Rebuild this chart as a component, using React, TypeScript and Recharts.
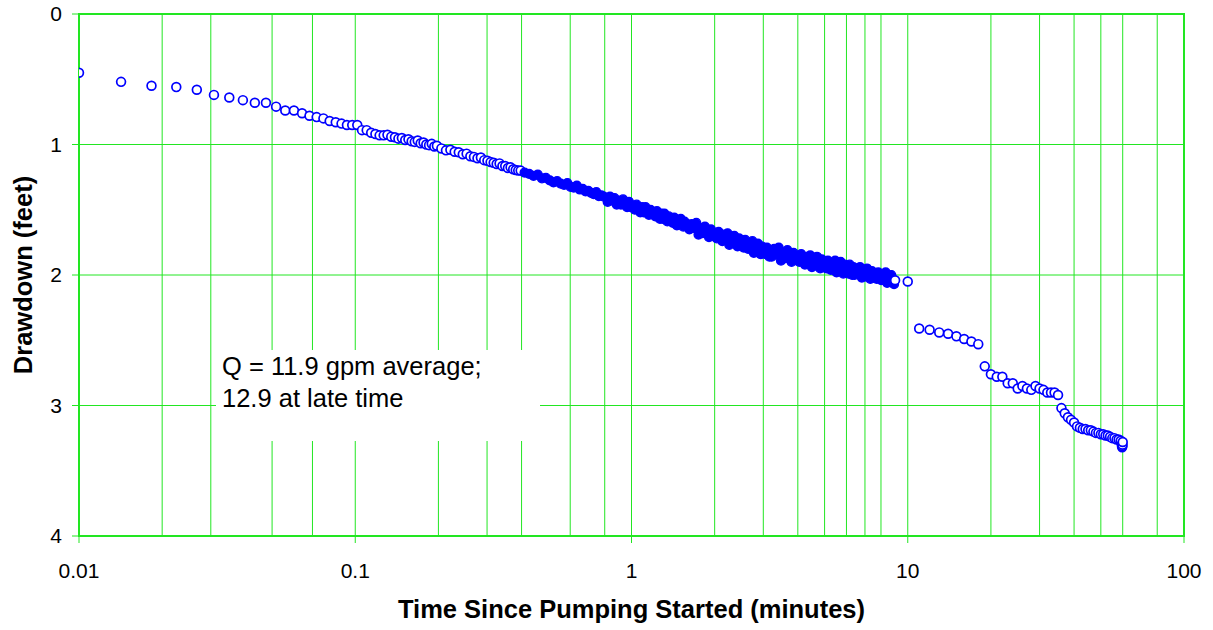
import { ScatterChart, Scatter, XAxis, YAxis, CartesianGrid, ReferenceArea } from 'recharts';

// pumping test drawdown, time in minutes, drawdown in feet
const earlyReadings = [
  [0.01, 0.45], [0.0142, 0.52], [0.0183, 0.55], [0.0225, 0.56], [0.0267, 0.58],
  [0.0308, 0.62], [0.035, 0.64], [0.0392, 0.66], [0.0433, 0.68], [0.0475, 0.68],
  [0.0517, 0.71], [0.0558, 0.74], [0.06, 0.74], [0.0642, 0.76], [0.0683, 0.78],
  [0.0725, 0.79], [0.0767, 0.8], [0.0808, 0.82], [0.085, 0.83], [0.0892, 0.84],
  [0.0933, 0.85], [0.0975, 0.85], [0.1017, 0.85], [0.1058, 0.89], [0.11, 0.89],
  [0.1142, 0.91], [0.1183, 0.92],
  [0.1225, 0.93], [0.1267, 0.93], [0.1308, 0.925], [0.135, 0.94], [0.1392, 0.945],
  [0.1433, 0.955], [0.1475, 0.95], [0.1517, 0.965], [0.1558, 0.96], [0.16, 0.975],
  [0.1642, 0.98], [0.1683, 0.97], [0.1725, 0.99], [0.1767, 0.985], [0.1808, 1.0],
  [0.185, 1.005], [0.1892, 0.995], [0.1933, 1.015], [0.1975, 1.01],
  [0.205, 1.03], [0.213, 1.045], [0.221, 1.04], [0.229, 1.055], [0.237, 1.06],
  [0.245, 1.075], [0.253, 1.07], [0.261, 1.09], [0.269, 1.095], [0.277, 1.105],
  [0.285, 1.1], [0.293, 1.12], [0.301, 1.125], [0.309, 1.135], [0.317, 1.14],
  [0.325, 1.15], [0.333, 1.145], [0.341, 1.165], [0.349, 1.165], [0.357, 1.18],
  [0.365, 1.175], [0.373, 1.19], [0.381, 1.195], [0.389, 1.2], [0.397, 1.2],
];

const denseReadings = [
  [0.41, 1.215], [0.426, 1.225], [0.442, 1.24], [0.458, 1.23], [0.474, 1.26],
  [0.49, 1.255], [0.506, 1.275], [0.522, 1.29], [0.538, 1.28], [0.554, 1.3],
  [0.57, 1.31], [0.586, 1.295], [0.602, 1.325], [0.618, 1.33], [0.634, 1.315],
  [0.65, 1.345], [0.666, 1.34], [0.682, 1.36], [0.698, 1.355], [0.714, 1.37],
  [0.73, 1.38], [0.746, 1.365], [0.762, 1.395], [0.778, 1.39], [0.794, 1.4],
  [0.82, 1.44], [0.836, 1.4], [0.852, 1.43], [0.868, 1.41], [0.884, 1.46],
  [0.9, 1.43], [0.916, 1.46], [0.932, 1.42], [0.948, 1.45], [0.964, 1.48],
  [0.98, 1.44], [0.996, 1.48], [1.012, 1.47], [1.028, 1.5], [1.044, 1.46],
  [1.06, 1.49], [1.076, 1.52], [1.092, 1.48], [1.108, 1.52], [1.124, 1.48],
  [1.14, 1.51], [1.156, 1.54], [1.172, 1.5], [1.188, 1.53], [1.204, 1.52],
  [1.22, 1.55], [1.236, 1.51], [1.252, 1.55], [1.268, 1.57], [1.284, 1.53],
  [1.3, 1.57], [1.316, 1.53], [1.332, 1.56], [1.348, 1.59], [1.364, 1.55],
  [1.38, 1.58], [1.396, 1.57], [1.412, 1.6], [1.428, 1.56], [1.444, 1.59],
  [1.46, 1.62], [1.476, 1.58], [1.492, 1.61], [1.508, 1.57], [1.524, 1.6],
  [1.54, 1.63], [1.556, 1.59], [1.572, 1.62], [1.588, 1.61],
  [1.62, 1.65], [1.652, 1.61], [1.684, 1.64], [1.716, 1.6], [1.748, 1.69],
  [1.78, 1.64], [1.812, 1.68], [1.844, 1.63], [1.876, 1.67], [1.908, 1.71],
  [1.94, 1.65], [1.972, 1.7], [2.004, 1.68], [2.036, 1.72], [2.068, 1.67],
  [2.1, 1.71], [2.132, 1.74], [2.164, 1.69], [2.196, 1.73], [2.228, 1.68],
  [2.26, 1.77], [2.292, 1.72], [2.324, 1.75], [2.356, 1.7], [2.388, 1.74],
  [2.42, 1.78], [2.452, 1.72], [2.484, 1.77], [2.516, 1.75], [2.548, 1.79],
  [2.58, 1.73], [2.612, 1.77], [2.644, 1.8], [2.676, 1.76], [2.708, 1.79],
  [2.74, 1.74], [2.772, 1.83], [2.804, 1.78], [2.836, 1.81], [2.868, 1.76],
  [2.9, 1.8], [2.932, 1.84], [2.964, 1.78], [2.996, 1.83], [3.028, 1.81],
  [3.06, 1.84], [3.092, 1.79], [3.124, 1.83], [3.156, 1.86], [3.188, 1.81],
  [3.22, 1.86], [3.284, 1.8], [3.348, 1.84], [3.412, 1.79], [3.476, 1.89],
  [3.54, 1.83], [3.604, 1.87], [3.668, 1.81], [3.732, 1.86], [3.796, 1.9],
  [3.86, 1.83], [3.924, 1.88], [3.988, 1.86], [4.052, 1.9], [4.116, 1.84],
  [4.18, 1.88], [4.244, 1.92], [4.308, 1.86], [4.372, 1.9], [4.436, 1.85],
  [4.5, 1.94], [4.564, 1.89], [4.628, 1.92], [4.692, 1.86], [4.756, 1.91],
  [4.82, 1.95], [4.884, 1.88], [4.948, 1.93], [5.012, 1.91], [5.076, 1.95],
  [5.14, 1.89], [5.204, 1.93], [5.268, 1.96], [5.332, 1.91], [5.396, 1.94],
  [5.46, 1.89], [5.524, 1.98], [5.588, 1.93], [5.652, 1.96], [5.716, 1.9],
  [5.78, 1.95], [5.844, 1.99], [5.908, 1.92], [5.972, 1.97], [6.036, 1.95],
  [6.1, 1.99], [6.164, 1.92], [6.228, 1.97], [6.292, 2.0], [6.356, 1.94],
  [6.42, 2.0], [6.52, 1.95], [6.62, 1.99], [6.72, 1.94], [6.82, 2.02],
  [6.92, 1.97], [7.02, 2.01], [7.12, 1.95], [7.22, 1.99], [7.32, 2.03],
  [7.42, 1.97], [7.52, 2.02], [7.62, 2.0], [7.72, 2.03], [7.82, 1.98],
  [7.92, 2.02], [8.02, 2.04], [8.12, 2.0], [8.22, 2.03], [8.32, 1.98],
  [8.42, 2.06], [8.52, 2.02], [8.62, 2.05], [8.72, 2.0], [8.82, 2.03],
  [8.92, 2.07],
];

const lateReadings = [
  [9.0, 2.04], [10, 2.05], [11, 2.41], [12, 2.42], [13, 2.44], [14, 2.45], [15, 2.47],
  [16, 2.49], [17, 2.51], [18, 2.53], [19, 2.7], [20, 2.76], [21, 2.78],
  [22, 2.78], [23, 2.83], [24, 2.83], [25, 2.87], [26, 2.85], [27, 2.87],
  [28, 2.88], [29, 2.85], [30, 2.87], [31, 2.88], [32, 2.9], [33, 2.9],
  [34, 2.9], [35, 2.92], [36, 3.02], [37, 3.06], [38, 3.09], [39, 3.11],
  [40, 3.13], [41, 3.16], [42, 3.17], [43, 3.18], [44, 3.18], [45, 3.19],
  [46, 3.19], [47, 3.2], [48, 3.21], [49, 3.21], [50, 3.22], [51, 3.22],
  [52, 3.23], [53, 3.23], [54, 3.24], [55, 3.25], [56, 3.25], [57, 3.26],
  [58, 3.26], [59, 3.27], [59.5, 3.3], [59.7, 3.32], [59.8, 3.31],
  [59.9, 3.3], [60, 3.28],
];

const timeTicks = [0.01, 0.1, 1, 10, 100];
const gridTimes = [
  0.01, 0.02, 0.03, 0.04, 0.05, 0.06, 0.07, 0.08, 0.09,
  0.1, 0.2, 0.3, 0.4, 0.5, 0.6, 0.7, 0.8, 0.9,
  1, 2, 3, 4, 5, 6, 7, 8, 9,
  10, 20, 30, 40, 50, 60, 70, 80, 90, 100,
];
const drawdownTicks = [0, 1, 2, 3, 4];

const toPoints = (rows: number[][]) => rows.map(([t, d]) => ({ t, d }));
const earlyPoints = toPoints(earlyReadings);
const densePoints = toPoints(denseReadings);
const latePoints = toPoints(lateReadings);

const GREEN = '#22e622';
const BLUE = '#0000ff';

// open circle marker
const Ring = (props: any) => (
  <circle cx={props.cx} cy={props.cy} r={4.4} fill="#ffffff" stroke={BLUE} strokeWidth={1.7} />
);
// in the dense stretch the overlapping markers merge into a solid band
const Dot = (props: any) => (
  <circle cx={props.cx} cy={props.cy} r={4.4} fill={BLUE} stroke={BLUE} strokeWidth={1.4} />
);

export default function App() {
  return (
    <div
      style={{
        position: 'absolute',
        left: 0,
        top: 0,
        width: 1213,
        height: 630,
        background: '#fff',
        fontFamily: '"Liberation Sans", Arial, sans-serif',
      }}
    >
      <ScatterChart width={1213} height={630} margin={{ top: 14, right: 29, bottom: 0, left: 0 }}>
        <CartesianGrid xAxisId="grid" stroke={GREEN} strokeWidth={1} />
        <XAxis
          xAxisId="grid"
          dataKey="t"
          type="number"
          scale="log"
          domain={[0.01, 100]}
          ticks={gridTimes}
          allowDataOverflow
          hide
        />
        <XAxis
          dataKey="t"
          type="number"
          scale="log"
          domain={[0.01, 100]}
          ticks={timeTicks}
          allowDataOverflow
          height={94}
          tickSize={7}
          tickMargin={20}
          tick={{ fill: '#000', fontSize: 21 }}
          tickLine={{ stroke: GREEN }}
          axisLine={{ stroke: GREEN, strokeWidth: 2 }}
          label={{
            value: 'Time Since Pumping Started (minutes)',
            position: 'insideBottom',
            offset: 12,
            fill: '#000',
            style: { fontWeight: 'bold', fontSize: 25.5, fill: '#000' },
          }}
        />
        <YAxis
          dataKey="d"
          type="number"
          domain={[0, 4]}
          ticks={drawdownTicks}
          reversed
          width={79}
          tickSize={7}
          tickMargin={10}
          tick={{ fill: '#000', fontSize: 21 }}
          tickLine={{ stroke: GREEN }}
          axisLine={{ stroke: GREEN, strokeWidth: 2 }}
          label={{
            value: 'Drawdown (feet)',
            angle: -90,
            position: 'insideLeft',
            offset: 23,
            fill: '#000',
            style: { textAnchor: 'middle', fontWeight: 'bold', fontSize: 25.5, fill: '#000' },
          }}
        />
        <ReferenceArea x1={0.01} x2={100} y1={0} y2={4} fill="none" stroke={GREEN} strokeWidth={2} />
        <Scatter data={earlyPoints} shape={Ring} isAnimationActive={false} />
        <Scatter data={densePoints} shape={Dot} isAnimationActive={false} />
        <Scatter data={latePoints} shape={Ring} isAnimationActive={false} />
      </ScatterChart>
      <div
        style={{
          position: 'absolute',
          left: 216,
          top: 350,
          width: 318,
          height: 91,
          paddingLeft: 6,
          background: '#fff',
          fontSize: 25.5,
          lineHeight: '32px',
          color: '#000',
        }}
      >
        Q = 11.9 gpm average;
        <br />
        12.9 at late time
      </div>
    </div>
  );
}
